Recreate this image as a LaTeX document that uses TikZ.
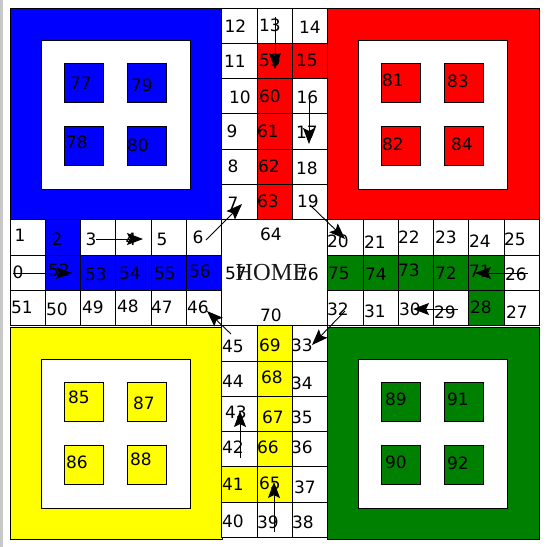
\documentclass[tikz,border=0pt]{standalone}
\usepackage{fontspec}
\setmainfont{DejaVu Sans}
\newfontfamily\homefont{Liberation Serif}
\usetikzlibrary{arrows.meta}
\definecolor{ludoblue}{RGB}{0,0,255}
\definecolor{ludored}{RGB}{255,0,0}
\definecolor{ludogreen}{RGB}{0,128,0}
\definecolor{ludoyellow}{RGB}{255,255,0}
\definecolor{edgegray}{RGB}{200,200,200}
\definecolor{homegray}{RGB}{25,25,25}
\begin{document}
\begin{tikzpicture}[x=1pt,y=-1pt,
  cellbox/.style={draw=black,line width=1pt},
  basebox/.style={draw=black,line width=1pt},
  lbl/.style={font=\fontsize{17}{19}\selectfont,inner sep=0pt,text=black},
  homelbl/.style={font=\homefont\fontsize{24.5}{26}\selectfont,inner sep=0pt,text=homegray},
  arr/.style={-{Stealth[length=16pt,width=12pt,inset=3pt]},line width=0.9pt,draw=black}]
\useasboundingbox (0,0) rectangle (547,547);
\fill[white] (0,0) rectangle (547,547);
\fill[edgegray] (0,0) rectangle (2.5,547);

% corner bases
\foreach \ox/\oy/\col in {10/8/ludoblue,327/8/ludored,10/327/ludoyellow,327/327/ludogreen}{
  \draw[basebox,fill=\col] (\ox,\oy) rectangle ++(212,212);
  \draw[basebox,fill=white] (\ox+31,\oy+32) rectangle ++(149,149);
  \foreach \tx in {54.5,117.5}{
    \foreach \ty in {55,118}{
      \draw[basebox,fill=\col] (\ox+\tx,\oy+\ty) rectangle ++(39,39);
    }
  }
}

% track cells
\begin{scope}[shift={(10,8)},x=35.3pt,y=-35.3pt]
  % top arm
  \foreach \r in {0,...,5}{\foreach \c in {6,7,8}{\draw[cellbox,fill=white] (\c,\r) rectangle ++(1,1);}}
  \foreach \r in {1,...,5}{\draw[cellbox,fill=ludored] (7,\r) rectangle ++(1,1);}
  \draw[cellbox,fill=ludored] (8,1) rectangle ++(1,1);
  % left arm
  \foreach \r in {6,7,8}{\foreach \c in {0,...,5}{\draw[cellbox,fill=white] (\c,\r) rectangle ++(1,1);}}
  \foreach \c in {1,...,5}{\draw[cellbox,fill=ludoblue] (\c,7) rectangle ++(1,1);}
  \draw[cellbox,fill=ludoblue] (1,6) rectangle ++(1,1);
  % right arm
  \foreach \r in {6,7,8}{\foreach \c in {9,...,14}{\draw[cellbox,fill=white] (\c,\r) rectangle ++(1,1);}}
  \foreach \c in {9,...,13}{\draw[cellbox,fill=ludogreen] (\c,7) rectangle ++(1,1);}
  \draw[cellbox,fill=ludogreen] (13,8) rectangle ++(1,1);
  % bottom arm
  \foreach \r in {9,...,14}{\foreach \c in {6,7,8}{\draw[cellbox,fill=white] (\c,\r) rectangle ++(1,1);}}
  \foreach \r in {9,...,13}{\draw[cellbox,fill=ludoyellow] (7,\r) rectangle ++(1,1);}
  \draw[cellbox,fill=ludoyellow] (6,13) rectangle ++(1,1);
  % centre
  \draw[cellbox,fill=white] (6,6) rectangle (9,9);
\end{scope}

% cell labels
\foreach \n/\x/\y in {
  12/235.5/26, 13/270/25, 14/310/27,
  11/235/61, 59/270/60, 15/307/60,
  10/240/97, 60/270/96, 16/307.5/97,
  9/232/131, 61/268/131, 17/307/132,
  8/233/166, 62/269/166, 18/307/168,
  7/233/203, 63/268/201, 19/308/201,
  1/20/235, 2/57/239, 3/91/239, 4/131/239, 5/162/239, 6/198/237,
  0/18/272, 52/59/270, 53/96/274, 54/130/273, 55/165/273, 56/200/271,
  51/22/307, 50/57/309, 49/93/307, 48/128/306, 47/162/307, 46/198/307,
  20/338/241, 21/375/242, 22/409/237, 23/446/237, 24/480/241, 25/515/239,
  75/339/273, 74/376/274, 73/409/270, 72/446/273, 71/480/271, 26/516/274,
  32/338/309, 31/375/311, 30/410/309, 29/445/312, 28/481/307, 27/517/312,
  45/233/346, 69/270/345, 33/302/345,
  44/233/381, 68/272/377, 34/302/383,
  43/236/412, 67/273/417, 35/302/417,
  42/233/447, 66/268/447, 36/302/447,
  41/233/484, 65/270/483, 37/305/487,
  40/233/521, 39/268/522, 38/303/522,
  64/271/234, 57/236/273, 76/308/274, 70/271/315,
  77/81/83, 79/142/85, 78/77/142, 80/138/145,
  81/393/80, 83/458/81, 82/393/144, 84/462/144,
  85/79/397, 87/144/403, 86/77/462, 88/141/459,
  89/396/399, 91/458/399, 90/396/462, 92/458/463}{
  \node[lbl] (c\n) at (\x,\y) {\n};
}
\node[homelbl] (home) at (271.5,273) {HOME};

% arrow end points
\coordinate (a1s) at (275,17);   \coordinate (a1e) at (275,69);
\coordinate (a2s) at (309,97);   \coordinate (a2e) at (309,144);
\coordinate (a3s) at (206,240);  \coordinate (a3e) at (242,204);
\coordinate (a4s) at (310,205);  \coordinate (a4e) at (345,239);
\coordinate (a5s) at (96,239);   \coordinate (a5e) at (143,239);
\coordinate (a6s) at (13,273);   \coordinate (a6e) at (72,273);
\coordinate (a7s) at (528,273);  \coordinate (a7e) at (475,273);
\coordinate (a8s) at (458,309);  \coordinate (a8e) at (413,309);
\coordinate (a9s) at (231,334);  \coordinate (a9e) at (207,311);
\coordinate (a10s) at (345,311); \coordinate (a10e) at (312,345);
\coordinate (a11s) at (240,458); \coordinate (a11e) at (240,411);
\coordinate (a12s) at (274,532); \coordinate (a12e) at (274,482);
\foreach \i in {1,...,12}{\draw[arr] (a\i s) -- (a\i e);}
\end{tikzpicture}
\end{document}
